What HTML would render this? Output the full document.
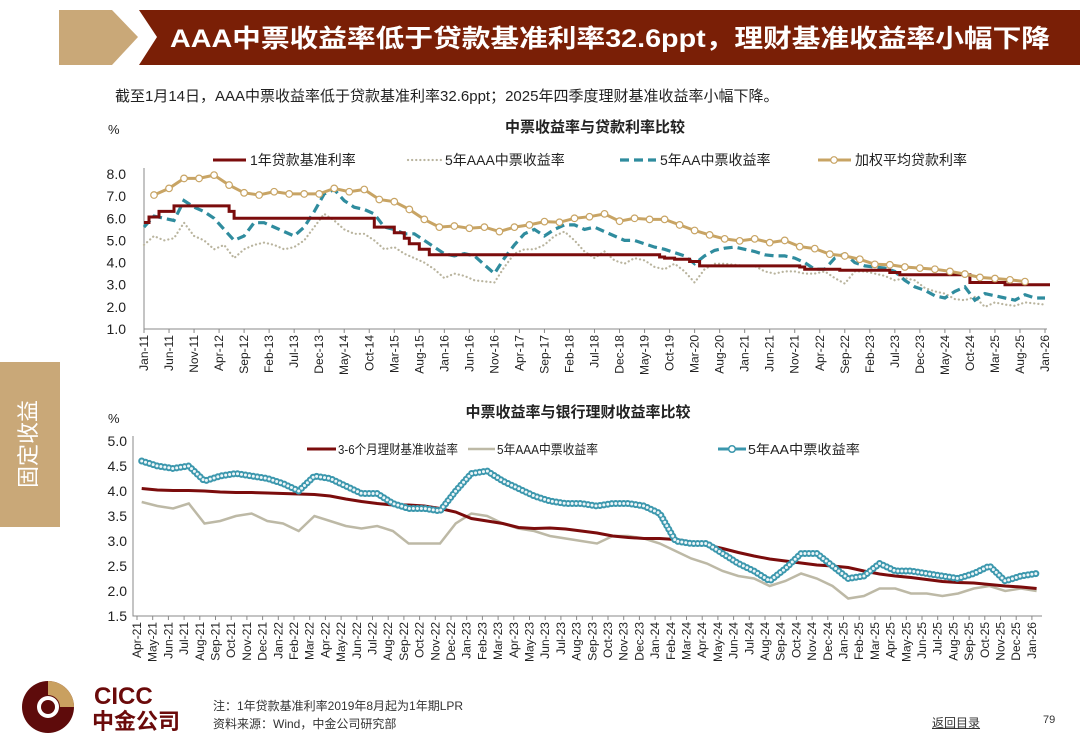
<!DOCTYPE html>
<html><head><meta charset="utf-8">
<style>
body{margin:0;background:#fff;}
#wrap{position:relative;width:1080px;height:755px;overflow:hidden;font-family:"Liberation Sans","Noto Sans CJK SC",sans-serif;}
.abs{position:absolute;white-space:nowrap;}
</style></head><body>
<div id="wrap">
<svg width="1080" height="755" style="position:absolute;left:0;top:0">
  <polygon points="59,10 112,10 138,37 112,65 59,65" fill="#c9a878"/>
  <polygon points="139,10 1080,10 1080,65 139,65 157,37" fill="#7a1f06"/>
  <text x="170" y="47" fill="#fff" font-size="25" font-weight="bold" textLength="880" lengthAdjust="spacingAndGlyphs" font-family="Liberation Sans,Noto Sans CJK SC,sans-serif">AAA中票收益率低于贷款基准利率32.6ppt，理财基准收益率小幅下降</text>
  <rect x="0" y="362" width="60" height="165" fill="#c9a878"/>
  <text x="30" y="444" fill="#fff" font-size="22" text-anchor="middle" transform="rotate(-90 30 444)" dominant-baseline="middle" font-family="Liberation Sans,Noto Sans CJK SC,sans-serif">固定收益</text>
  <g>
    <circle cx="48" cy="707" r="26" fill="#5e0b0b"/>
    <path d="M48,681 A26,26 0 0 1 74,707 L60,707 A12,12 0 0 0 48,695 Z" fill="#c9a060"/>
    <circle cx="48" cy="707" r="11" fill="#fff"/>
    <circle cx="48" cy="707" r="7" fill="#5e0b0b"/>
    <text x="94" y="704" fill="#6b0a0a" font-size="24" font-weight="bold" font-family="Liberation Sans,sans-serif">CICC</text>
    <text x="92" y="729" fill="#6b0a0a" font-size="22" font-weight="bold" font-family="Liberation Sans,Noto Sans CJK SC,sans-serif">中金公司</text>
  </g>
  <g id="c1"></g>
  <g id="c2"></g>
</svg>
<div class="abs" style="left:115px;top:85px;font-size:15px;color:#222">截至1月14日，AAA中票收益率低于贷款基准利率32.6ppt；2025年四季度理财基准收益率小幅下降。</div>
<div class="abs" style="left:213px;top:697px;font-size:12px;color:#333">注：1年贷款基准利率2019年8月起为1年期LPR</div>
<div class="abs" style="left:213px;top:715px;font-size:12px;color:#333">资料来源：Wind，中金公司研究部</div>
<div class="abs" style="left:932px;top:714px;font-size:12px;color:#333;text-decoration:underline">返回目录</div>
<div class="abs" style="left:1043px;top:714px;font-size:11px;color:#333">79</div>
</div>
<script>
// ---------- Chart 1 data (month index from Jan-11) ----------
const c1TickLabels = ["Jan-11","Jun-11","Nov-11","Apr-12","Sep-12","Feb-13","Jul-13","Dec-13","May-14","Oct-14","Mar-15","Aug-15","Jan-16","Jun-16","Nov-16","Apr-17","Sep-17","Feb-18","Jul-18","Dec-18","May-19","Oct-19","Mar-20","Aug-20","Jan-21","Jun-21","Nov-21","Apr-22","Sep-22","Feb-23","Jul-23","Dec-23","May-24","Oct-24","Mar-25","Aug-25","Jan-26"];
const c1YTicks = [1,2,3,4,5,6,7,8];
const lprMonths = [0,1,3,6,17,18,46,50,52,53,55,57,103,104,106,109,111,131,132,139,149,151,165,172,181];
const lprValues = [5.81,6.06,6.31,6.56,6.31,6.0,5.6,5.35,5.1,4.85,4.6,4.35,4.25,4.2,4.15,4.05,3.85,3.8,3.7,3.65,3.55,3.45,3.1,3.0,3.0];
const wavgValues = [7.05,7.35,7.8,7.8,7.95,7.5,7.15,7.05,7.2,7.1,7.1,7.1,7.35,7.2,7.3,6.85,6.75,6.4,5.95,5.6,5.65,5.55,5.6,5.4,5.6,5.7,5.85,5.82,6.0,6.07,6.2,5.87,6.0,5.95,5.95,5.7,5.45,5.25,5.07,4.98,5.07,4.9,5.0,4.72,4.63,4.38,4.3,4.15,3.92,3.9,3.8,3.75,3.7,3.6,3.48,3.33,3.28,3.22,3.14];
const aaaValues1 = [4.8,5.2,5.0,5.1,5.8,5.2,5.0,4.6,4.8,4.2,4.6,4.8,4.9,4.8,4.6,4.7,5.0,5.6,6.2,5.9,5.5,5.3,5.3,5.0,4.6,4.7,4.4,4.2,4.0,3.7,3.3,3.5,3.4,3.2,3.15,3.1,3.8,4.4,4.6,4.6,4.8,5.2,5.4,5.0,4.5,4.2,4.5,4.1,3.95,4.2,4.1,3.8,3.7,3.95,3.6,3.1,3.7,3.95,3.95,3.9,3.85,3.85,3.6,3.5,3.6,3.6,3.5,3.5,3.6,3.3,3.05,3.6,3.6,3.5,3.4,3.2,3.3,3.2,2.85,2.7,2.6,2.35,2.3,2.45,2.0,2.2,2.1,2.05,2.2,2.15,2.1];
const aaValues1 = [5.6,6.1,6.0,5.9,6.8,6.5,6.3,6.0,5.5,5.0,5.2,5.8,5.8,5.6,5.4,5.2,5.6,6.3,7.1,7.3,6.8,6.5,6.4,6.2,5.6,5.5,5.3,5.3,5.0,4.7,4.4,4.3,4.4,4.3,3.9,3.5,4.2,4.8,5.3,5.5,5.2,5.5,5.7,5.7,5.5,5.6,5.4,5.2,5.0,5.0,4.85,4.7,4.6,4.45,4.3,3.95,4.3,4.55,4.65,4.7,4.6,4.5,4.35,4.3,4.3,4.2,4.0,3.7,3.7,4.2,4.4,4.0,3.85,3.8,3.75,3.6,3.2,2.9,2.75,2.5,2.4,2.7,2.9,2.3,2.6,2.5,2.4,2.3,2.55,2.4,2.4];

// ---------- Chart 2 data (month index from Apr-21) ----------
const c2TickLabels = (function(){const mm=["Jan","Feb","Mar","Apr","May","Jun","Jul","Aug","Sep","Oct","Nov","Dec"];const o=[];for(let i=0;i<58;i++){const t=3+i;o.push(mm[t%12]+"-"+(21+Math.floor(t/12)));}return o;})();
const c2YTicks = [1.5,2.0,2.5,3.0,3.5,4.0,4.5,5.0];
const wmpValues = [4.05,4.02,4.01,4.01,4.0,3.98,3.97,3.97,3.96,3.95,3.94,3.93,3.9,3.84,3.79,3.75,3.72,3.72,3.7,3.65,3.58,3.45,3.4,3.35,3.27,3.25,3.26,3.24,3.2,3.16,3.1,3.07,3.05,3.05,3.03,2.98,2.92,2.85,2.77,2.7,2.64,2.6,2.56,2.52,2.5,2.47,2.4,2.34,2.3,2.27,2.23,2.19,2.17,2.16,2.13,2.1,2.08,2.05];
const aaaValues2 = [3.78,3.7,3.65,3.75,3.35,3.4,3.5,3.55,3.4,3.35,3.2,3.5,3.4,3.3,3.25,3.3,3.2,2.95,2.95,2.95,3.35,3.55,3.5,3.35,3.25,3.2,3.1,3.05,3.0,2.95,3.1,3.1,3.05,2.95,2.8,2.65,2.55,2.4,2.3,2.25,2.1,2.2,2.35,2.25,2.1,1.85,1.9,2.05,2.05,1.95,1.95,1.9,1.95,2.05,2.1,2.0,2.05,2.0];
const aaValues2 = [4.6,4.5,4.45,4.5,4.2,4.3,4.35,4.3,4.25,4.15,4.0,4.3,4.25,4.1,3.95,3.95,3.75,3.65,3.65,3.6,4.0,4.35,4.4,4.2,4.05,3.9,3.8,3.75,3.75,3.7,3.75,3.75,3.7,3.55,3.0,2.95,2.95,2.75,2.55,2.4,2.2,2.45,2.75,2.75,2.5,2.25,2.3,2.55,2.4,2.4,2.35,2.3,2.25,2.35,2.5,2.2,2.3,2.35];

const NS="http://www.w3.org/2000/svg";
const FONT='"Liberation Sans","Noto Sans CJK SC",sans-serif';
function mk(parent,tag,attrs){const e=document.createElementNS(NS,tag);for(const k in attrs)e.setAttribute(k,attrs[k]);parent.appendChild(e);return e;}
function txt(parent,x,y,s,attrs){const e=mk(parent,"text",Object.assign({x:x,y:y,"font-family":FONT,fill:"#222"},attrs||{}));e.textContent=s;return e;}
function pathD(pts){return pts.map((p,i)=>(i?"L":"M")+p[0].toFixed(1)+","+p[1].toFixed(1)).join(" ");}

// ---------- Chart 1 ----------
(function(){
  const g=document.getElementById("c1");
  const X=m=>144+m*(901/180), Y=v=>329-(v-1)*(155/7);
  let t=txt(g,595,132,"中票收益率与贷款利率比较",{"font-size":15,"font-weight":"bold","text-anchor":"middle"});
  
  
  t=txt(g,108,134,"%",{"font-size":13});
  
  
  let ax=mk(g,"path",{d:"M144,168 V329 H1047",stroke:"#888",fill:"none","stroke-width":1});
  
  
  c1YTicks.forEach(v=>{const l=txt(g,126,Y(v)+5,v.toFixed(1),{"font-size":14,"text-anchor":"end"});
    
    });
  c1TickLabels.forEach((s,i)=>{const x=X(i*5);
    mk(g,"line",{x1:x,y1:329,x2:x,y2:333,stroke:"#888"});
    const l=txt(g,x+4,335,s,{"font-size":12,"text-anchor":"end",transform:"rotate(-90 "+(x+4)+" 335)"});
    
    });
  const aaa=aaaValues1.map((v,i)=>[X(i*2),Y(v)]);
  let p=mk(g,"path",{d:pathD(aaa),stroke:"#b9b49e",fill:"none","stroke-width":2.2,"stroke-dasharray":"0.1 4","stroke-linecap":"round"});
  
  
  const aa=aaValues1.map((v,i)=>[X(i*2),Y(v)]);
  p=mk(g,"path",{d:pathD(aa),stroke:"#2f8c9e",fill:"none","stroke-width":3.2,"stroke-dasharray":"9 5"});
  
  
  let d="";lprMonths.forEach((m,i)=>{const x=X(m),y=Y(lprValues[i]);d+= i?("H"+x.toFixed(1)+"V"+y.toFixed(1)):("M"+x.toFixed(1)+","+y.toFixed(1));});
  d+="H"+X(180.5).toFixed(1);
  p=mk(g,"path",{d:d,stroke:"#7b0c0c",fill:"none","stroke-width":3});
  
  
  const wa=wavgValues.map((v,i)=>[X(2+i*3),Y(v)]);
  p=mk(g,"path",{d:pathD(wa),stroke:"#c8a464",fill:"none","stroke-width":3});
  
  
  wa.forEach(pt=>{const c=mk(g,"circle",{cx:pt[0],cy:pt[1],r:3.3,fill:"#fff",stroke:"#c8a464","stroke-width":1.2});
    
    });
  const lg=mk(g,"g",{});
  
  
  mk(lg,"line",{x1:213,y1:160,x2:246,y2:160,stroke:"#7b0c0c","stroke-width":3});
  txt(lg,250,165,"1年贷款基准利率",{"font-size":14});
  mk(lg,"line",{x1:408,y1:160,x2:441,y2:160,stroke:"#b9b49e","stroke-width":2.2,"stroke-dasharray":"0.1 4","stroke-linecap":"round"});
  txt(lg,445,165,"5年AAA中票收益率",{"font-size":14});
  mk(lg,"line",{x1:620,y1:160,x2:656,y2:160,stroke:"#2f8c9e","stroke-width":3.2,"stroke-dasharray":"9 5"});
  txt(lg,660,165,"5年AA中票收益率",{"font-size":14});
  mk(lg,"line",{x1:818,y1:160,x2:851,y2:160,stroke:"#c8a464","stroke-width":3});
  mk(lg,"circle",{cx:834,cy:160,r:3.3,fill:"#fff",stroke:"#c8a464","stroke-width":1.2});
  txt(lg,855,165,"加权平均贷款利率",{"font-size":14});
})();

// ---------- Chart 2 ----------
(function(){
  const g=document.getElementById("c2");
  const X=m=>137+m*15.7, Y=v=>441+(5-v)*50;
  let t=txt(g,578,417,"中票收益率与银行理财收益率比较",{"font-size":15,"font-weight":"bold","text-anchor":"middle"});
  
  
  t=txt(g,108,423,"%",{"font-size":13});
  
  
  let ax=mk(g,"path",{d:"M133,436 V616 H1042",stroke:"#888",fill:"none"});
  
  
  c2YTicks.forEach(v=>{const l=txt(g,127,Y(v)+5,v.toFixed(1),{"font-size":14,"text-anchor":"end"});
    
    });
  c2TickLabels.forEach((s,i)=>{const x=X(i);
    mk(g,"line",{x1:x,y1:616,x2:x,y2:620,stroke:"#888"});
    const l=txt(g,x+4,622,s,{"font-size":12,"text-anchor":"end",transform:"rotate(-90 "+(x+4)+" 622)"});
    
    });
  const aaa=aaaValues2.map((v,i)=>[X(i+0.3),Y(v)]);
  let p=mk(g,"path",{d:pathD(aaa),stroke:"#bdb9a6",fill:"none","stroke-width":2.5});
  
  
  const wmp=wmpValues.map((v,i)=>[X(i+0.3),Y(v)]);
  p=mk(g,"path",{d:pathD(wmp),stroke:"#7b0c0c",fill:"none","stroke-width":3});
  
  
  const aa=aaValues2.map((v,i)=>[X(i+0.3),Y(v)]);
  const dAA=pathD(aa);
  p=mk(g,"path",{d:dAA,stroke:"#3b97ad",fill:"none","stroke-width":7,"stroke-dasharray":"0 4","stroke-linecap":"round"});
  
  
  p=mk(g,"path",{d:dAA,stroke:"#eef6f8",fill:"none","stroke-width":3,"stroke-dasharray":"0 4","stroke-linecap":"round"});
  
  
  const lg=mk(g,"g",{});
  
  
  mk(lg,"line",{x1:307,y1:449,x2:336,y2:449,stroke:"#7b0c0c","stroke-width":3});
  txt(lg,338,454,"3-6个月理财基准收益率",{"font-size":13,textLength:120,lengthAdjust:"spacingAndGlyphs"});
  mk(lg,"line",{x1:468,y1:449,x2:495,y2:449,stroke:"#bdb9a6","stroke-width":2.5});
  txt(lg,497,454,"5年AAA中票收益率",{"font-size":13,textLength:101,lengthAdjust:"spacingAndGlyphs"});
  mk(lg,"line",{x1:718,y1:449,x2:746,y2:449,stroke:"#3b97ad","stroke-width":3});
  mk(lg,"circle",{cx:732,cy:449,r:3.3,fill:"#fff",stroke:"#3b97ad","stroke-width":1.5});
  txt(lg,748,454,"5年AA中票收益率",{"font-size":13,textLength:112,lengthAdjust:"spacingAndGlyphs"});
})();
</script>
</body></html>
